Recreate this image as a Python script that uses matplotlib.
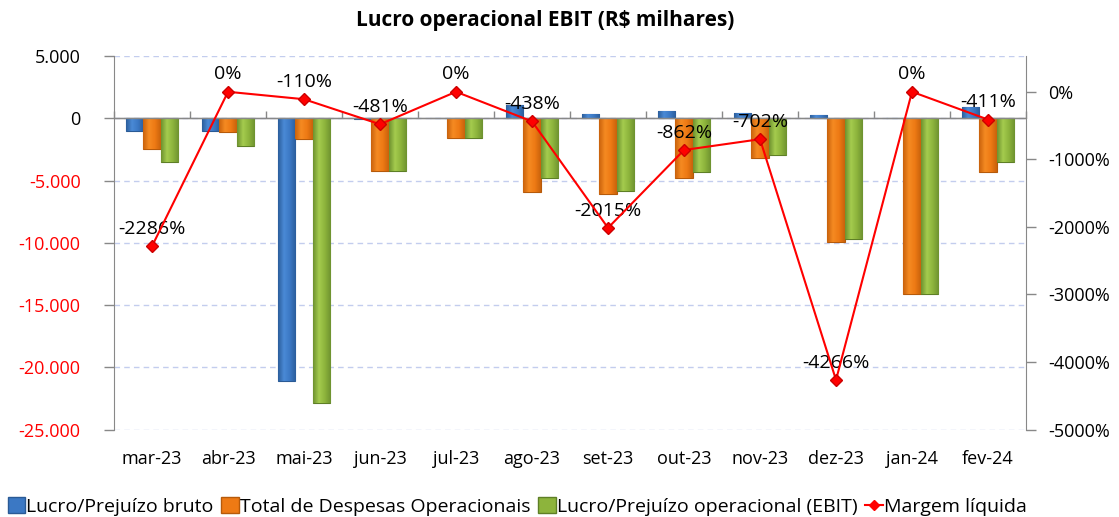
import numpy as np
import matplotlib.pyplot as plt
from matplotlib.patches import Patch
from matplotlib.lines import Line2D
from matplotlib.colors import LinearSegmentedColormap

months = ['mar-23', 'abr-23', 'mai-23', 'jun-23', 'jul-23', 'ago-23',
          'set-23', 'out-23', 'nov-23', 'dez-23', 'jan-24', 'fev-24']
lucro_bruto = [-1000, -1000, -21100, -50, 0, 1100, 320, 560, 420, 250, 0, 900]
despesas = [-2500, -1100, -1700, -4220, -1550, -5900, -6100, -4780, -3230, -9900, -14150, -4330]
ebit = [-3480, -2230, -22900, -4220, -1580, -4780, -5830, -4330, -2970, -9700, -14100, -3500]
margem = [-2286, 0, -110, -481, 0, -438, -2015, -862, -702, -4266, 0, -411]

left_ticks = [5000, 0, -5000, -10000, -15000, -20000, -25000]
right_ticks = [0, -1000, -2000, -3000, -4000, -5000]

plt.rcParams['font.family'] = ['Open Sans', 'DejaVu Sans']

red = '#FF0000'
series_style = [
    # base, edge, gradient stops
    ('#3B78C4', '#2A5A95', ['#2C5E9C', '#4A8AD6', '#3B78C4', '#2C5E9C']),
    ('#EE7A14', '#B65A0A', ['#C9620C', '#F58A22', '#EE7A14', '#C9620C']),
    ('#8DB43C', '#5E7F26', ['#6E9230', '#A4CB4E', '#8DB43C', '#6E9230']),
]

fig = plt.figure(figsize=(11.19, 5.17), dpi=100)
ax = fig.add_axes([0.1019, 0.1692, 0.8150, 0.7225])

x = np.arange(len(months))
w = 0.23
grad = np.linspace(0, 1, 64).reshape(1, -1)
for off, vals, (base, edge, stops) in zip([-w, 0, w], [lucro_bruto, despesas, ebit], series_style):
    bars = ax.bar(x + off, vals, w, color=base, edgecolor=edge, linewidth=0.8, zorder=3)
    cmap = LinearSegmentedColormap.from_list('g', stops)
    for b in bars:
        x0, y0 = b.get_x(), b.get_y()
        bw, bh = b.get_width(), b.get_height()
        if bh == 0:
            continue
        im = ax.imshow(grad, cmap=cmap, aspect='auto', zorder=3.5,
                       extent=[x0, x0 + bw, min(y0, y0 + bh), max(y0, y0 + bh)])
        im.set_clip_path(b)

ax.set_xlim(-0.5, len(months) - 0.5)
ax.set_ylim(-25000, 5000)
ax.set_yticks(left_ticks)
ax.set_yticklabels(['{:,}'.format(v).replace(',', '.') for v in left_ticks], fontsize=13)
for lab, v in zip(ax.get_yticklabels(), left_ticks):
    lab.set_color(red if v < 0 else 'black')
ax.grid(axis='y', color='#C3CDEE', linestyle=(0, (4, 3)), linewidth=1, zorder=0)
ax.tick_params(axis='y', length=7, color='#888888', width=1, pad=17)

ax.set_xticks(x)
ax.set_xticklabels(months, fontsize=13)
ax.tick_params(axis='x', length=0, pad=15)

for s in ['top', 'bottom']:
    ax.spines[s].set_visible(False)
ax.spines['left'].set_color('#888888')
ax.spines['right'].set_visible(False)

# category axis at zero with boundary tick marks
ax.axhline(0, color='#888888', linewidth=1, zorder=4)
sec = ax.secondary_xaxis(25000 / 30000)
sec.set_xticks(np.arange(-0.5, len(months) - 0.4, 1))
sec.set_xticklabels([])
sec.tick_params(axis='x', direction='out', length=5, color='#888888', width=1)
sec.spines['bottom'].set_visible(False)

ax2 = ax.twinx()
ax2.plot(x, margem, color=red, linewidth=1.5, marker='D', markersize=6,
         markerfacecolor=red, markeredgecolor='#CC0000', zorder=5)
ax2.set_ylim(-5000, 530)
ax2.set_yticks(right_ticks)
ax2.set_yticklabels(['{}%'.format(v) for v in right_ticks], fontsize=13)
ax2.tick_params(axis='y', length=7, color='#888888', width=1, pad=9)
for s in ['top', 'bottom', 'left']:
    ax2.spines[s].set_visible(False)
ax2.spines['right'].set_color('#888888')

for xi, m in zip(x, margem):
    ax2.annotate('{}%'.format(m), (xi, m), xytext=(0, 6), textcoords='offset points',
                 ha='center', va='bottom', fontsize=14)

fig.text(0.487, 0.96, 'Lucro operacional EBIT (R$ milhares)', ha='center', va='center',
         fontsize=15, fontweight='bold')

handles = [Patch(facecolor=c[0], edgecolor=c[1]) for c in series_style]
handles.append(Line2D([], [], color=red, marker='D', markersize=5, linewidth=1.5))
labels = ['Lucro/Prejuízo bruto', 'Total de Despesas Operacionais',
          'Lucro/Prejuízo operacional (EBIT)', 'Margem líquida']
fig.legend(handles, labels, loc='center left', bbox_to_anchor=(0.0, 0.02), ncol=4,
           frameon=False, fontsize=14, handlelength=0.9, handleheight=0.9,
           handletextpad=0.05, columnspacing=0.4, borderaxespad=0)

fig.savefig('out.png', dpi=100)
